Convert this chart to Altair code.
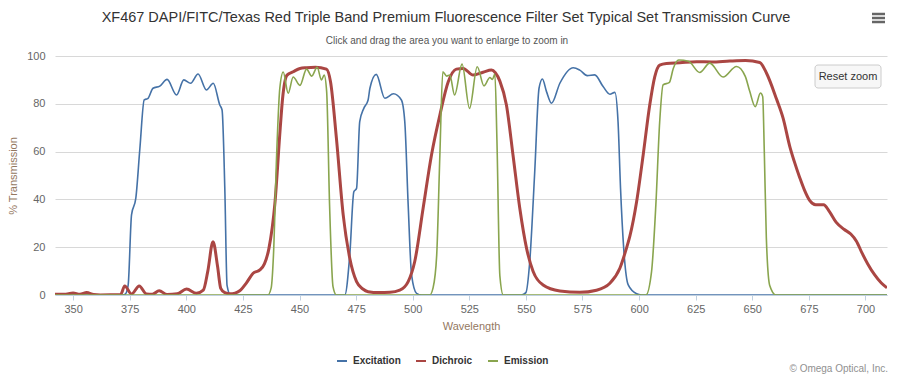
import altair as alt
import pandas as pd

series_names = ["Excitation", "Dichroic", "Emission"]
series_colors = ["#4572A7", "#AA4643", "#89A54E"]
x_ticks = [350, 375, 400, 425, 450, 475, 500, 525, 550, 575, 600, 625, 650, 675, 700]
y_ticks = [0, 20, 40, 60, 80, 100]

ex_nm = [342, 372, 373, 374.3, 375.8, 377.7, 379.5, 381.4, 383.1, 385.3, 388.3, 391.5, 395.7,
         398.9, 401.9, 405.2, 408.9, 411.9, 414.8, 415.8, 417, 418, 419.5,
         470, 472.2, 474, 475.2, 476.6, 478.4, 480.3, 481.1, 483.9, 487.7, 491.5, 495,
         496.5, 498, 499.5, 501.7, 504,
         548, 550, 551.7, 553.9, 555.8, 557.3, 559.1, 561.3, 565, 570.9, 573.8, 577.1,
         580.4, 584.1, 587.1, 589.3, 590.7, 591.8, 593.2, 595.2, 598.9, 601, 709.5]
ex_val = [0, 0, 0.3, 4, 33.5, 40.5, 61.4, 81.6, 82.3, 86.5, 87.4, 90.2, 83.7,
          90.0, 88.6, 92.5, 85.8, 88.6, 79.5, 77.4, 44.8, 4, 0,
          0, 16.7, 43.2, 44.6, 72.5, 78.1, 81.6, 86.5, 92.3, 82.3, 84.2, 81.6,
          72.5, 37.7, 8.4, 0.7, 0,
          0, 1, 14, 51.6, 86.5, 90.4, 85.1, 80.2, 88.6, 95.1, 94.1, 91.8,
          92.1, 87.2, 84, 84.8, 72.5, 44.6, 19.5, 4.2, 0.5, 0, 0]

di_nm = [342, 346, 350, 353, 356, 359, 362, 371, 372.8, 375.8, 379.2, 382.4, 385, 388, 391.5,
         396, 400.1, 404.5, 407.5, 409.5, 411.8, 413.8, 415.2, 417, 419.2, 421.5, 423.6,
         426.5, 429.5, 432.5, 434.5, 436.5, 439.1, 441.5, 442.5, 444.5, 447.2, 450.2, 453.1,
         457, 461.9, 463.7, 466.3, 469.3, 472.2, 475.2, 478, 480.3, 485, 490, 494.3, 498,
         500.9, 504.6, 508.3, 512, 515.7, 519.3, 522.3, 526.7, 531.1, 534.8, 536.5, 538.5,
         541.4, 544.3, 547.3, 550.3, 553.2, 557.6, 565, 573.8, 581.2, 587.1, 591.5, 594.4,
         595.9, 598.9, 601.8, 604.7, 606.9, 609.1, 612.1, 618, 625.4, 632, 640.1, 647,
         653.3, 656.3, 660.7, 663.6, 666.6, 668.5, 671, 673, 675.4, 678, 681.5, 684, 687,
         690.5, 693.5, 696, 698.5, 701, 704, 707, 709.5]
di_val = [0.3, 0.3, 0.8, 0.3, 1.0, 0.2, 0, 0.2, 3.8, 0.4, 3.8, 0.4, 0.3, 1.8, 0.2,
          0.5, 2.5, 0.7, 2, 10, 22.3, 12, 2.8, 1.0, 0.5, 0.8, 1.8,
          5, 9.1, 10.5, 13, 19.5, 38, 70, 82, 92, 93.4, 94.8, 95.1,
          95.3, 94.5, 89.2, 65.6, 33.5, 15.4, 5.6, 2.5, 1.4, 1.0, 1.1, 2, 5.6,
          14, 36.3, 58.6, 75.3, 89.2, 94.5, 94.8, 92, 93.2, 94.1, 93, 89.5,
          79.5, 58.6, 36.3, 19.5, 9.8, 4.2, 1.7, 1.1, 2.0, 4.9, 11.2, 19.5,
          24.5, 39, 58.6, 79.5, 91.3, 96.2, 96.9, 97.2, 97.6, 97.5, 97.9, 98.1,
          97.3, 92.8, 82, 74, 62, 56, 49, 44, 39.5, 37.8, 37.8, 35, 30.5,
          27.5, 25.5, 22.5, 17.5, 13, 8.5, 5, 3]

em_nm = [342, 436, 437.5, 438.5, 439.9, 441.3, 442.8, 445, 447.2, 450.2, 453.1, 455.4, 457.8,
         459.7, 460.9, 462, 463.3, 464.8, 466.3,
         507.5, 509, 510.6, 512, 513.3, 515, 516.4, 518.5, 521.8, 525.1, 528.5, 531.5, 534.1,
         535.2, 536.3, 537.2, 538.5, 540,
         603, 605.5, 607.4, 609.1, 610.6, 613.4, 615.1, 617.5, 621.8, 626.8, 631.2, 637.1,
         643, 646.9, 648.9, 651.3, 653.6, 654.6, 655.3, 656.2, 657.7, 660.5, 709.5]
em_val = [0, 0, 3, 16.7, 58.6, 86.5, 93.3, 84.4, 91.2, 87.7, 94.5, 91.6, 95.3,
          90, 92, 85, 37, 3.5, 0,
          0, 3, 16.7, 58.6, 93.4, 91.6, 92, 83.7, 96.6, 78.1, 95.5, 87.5, 91,
          90.2, 92.5, 65, 8, 0,
          0, 9.8, 37.7, 72.5, 87.9, 89, 94.8, 98.3, 97.8, 93.1, 97, 91.2,
          95.6, 91.5, 85.1, 78.8, 84.5, 83, 60, 24, 4, 0, 0]

frames = []
for name, nm, val in zip(series_names, [ex_nm, di_nm, em_nm], [ex_val, di_val, em_val]):
    frames.append(pd.DataFrame({"wavelength": nm, "transmission": val, "series": name}))
df = pd.concat(frames, ignore_index=True)

FONT = "Liberation Sans"
W, H = 832, 239

x_enc = alt.X("wavelength:Q",
              scale=alt.Scale(domain=[342, 709.5], nice=False, zero=False),
              axis=alt.Axis(values=x_ticks, title="Wavelength", grid=False, domainColor="#C0D0E0",
                            tickColor="#C0D0E0", tickSize=5, labelPadding=3, labelFontSize=11,
                            labelColor="#666666", titleColor="#94785f", titleFontSize=11,
                            titleFontWeight="normal", titleX=416, titleY=31,
                            titleBaseline="middle", format="d"))
y_enc = alt.Y("transmission:Q",
              scale=alt.Scale(domain=[0, 100], nice=False),
              axis=alt.Axis(values=y_ticks, title="% Transmission", grid=True, gridColor="#D8D8D8",
                            domain=False, ticks=False, labelPadding=10, labelFontSize=11,
                            labelColor="#666666", titleColor="#94785f", titleFontSize=11,
                            titleFontWeight="normal", titleX=-42, titleY=119.5,
                            titleBaseline="middle", titleAlign="center"))
color_enc = alt.Color("series:N",
                      scale=alt.Scale(domain=series_names, range=series_colors),
                      legend=alt.Legend(orient="none", legendX=281, legendY=299,
                                        direction="horizontal", title=None, symbolType="stroke",
                                        symbolSize=100, symbolStrokeWidth=2, labelFontSize=10,
                                        labelFontWeight="bold", labelColor="#333333",
                                        columnPadding=11, labelOffset=5))


def line_layer(name, width):
    return alt.Chart(df).transform_filter(alt.datum.series == name).mark_line(
        strokeWidth=width, interpolate="monotone", clip=True
    ).encode(x=x_enc, y=y_enc, color=color_enc)


one = alt.Chart(pd.DataFrame({"k": [0]}))

title = one.mark_text(
    text="XF467 DAPI/FITC/Texas Red Triple Band Premium Fluorescence Filter Set Typical Set Transmission Curve",
    font=FONT, fontSize=14.5, color="#333333", align="center", baseline="middle"
).encode(x=alt.value(391), y=alt.value(-38))
subtitle = one.mark_text(
    text="Click and drag the area you want to enlarge to zoom in",
    font=FONT, fontSize=10, color="#555555", align="center", baseline="middle"
).encode(x=alt.value(392), y=alt.value(-15))
credits = one.mark_text(
    text="© Omega Optical, Inc.", font=FONT, fontSize=10, color="#909090",
    align="right", baseline="middle"
).encode(x=alt.value(833), y=alt.value(313))
reset_rect = one.mark_rect(fill="#f7f7f7", stroke="#cccccc", strokeWidth=1, cornerRadius=3).encode(
    x=alt.value(760), x2=alt.value(826), y=alt.value(9), y2=alt.value(32))
reset_text = one.mark_text(text="Reset zoom", font=FONT, fontSize=11, color="#333333",
                           align="center", baseline="middle").encode(
    x=alt.value(793), y=alt.value(20.5))
menu = [one.mark_rule(color="#666666", strokeWidth=2.5).encode(
    x=alt.value(817), x2=alt.value(830), y=alt.value(v)) for v in (-42, -38, -34)]

chart = alt.layer(
    line_layer("Excitation", 1.6),
    line_layer("Dichroic", 3),
    line_layer("Emission", 1.6),
    title, subtitle, credits, reset_rect, reset_text, *menu
).properties(
    width=W, height=H,
    autosize=alt.AutoSizeParams(type="none"),
    padding={"left": 47, "top": 48, "right": 5, "bottom": 83}
).configure(
    font=FONT
).configure_view(stroke=None)

chart.save("out.html", embed_options={"renderer": "svg", "actions": False})
